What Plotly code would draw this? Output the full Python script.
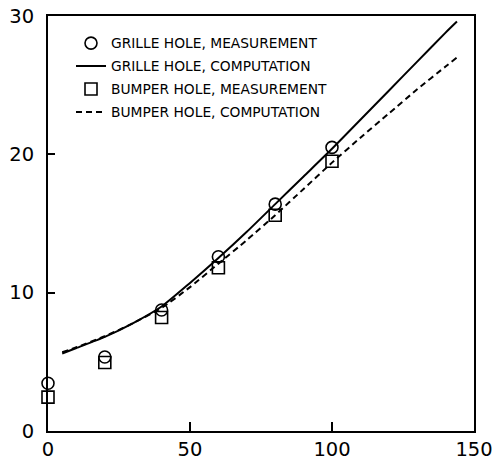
import plotly.graph_objects as go

# Measurement data
meas_x = [0, 20, 40, 60, 80, 100]
grille_meas = [3.45, 5.35, 8.75, 12.6, 16.4, 20.5]
bumper_meas = [2.45, 4.95, 8.2, 11.8, 15.6, 19.5]

# Computation curves
comp_x = [5, 10, 20, 30, 40, 50, 60, 70, 80, 90, 100, 110, 120, 130, 140, 144]
grille_comp = [5.6, 6.0, 6.8, 7.8, 9.0, 10.7, 12.5, 14.4, 16.4, 18.4, 20.4, 22.5, 24.6, 26.7, 28.8, 29.6]
bumper_comp = [5.7, 6.05, 6.85, 7.8, 8.9, 10.4, 12.1, 13.8, 15.6, 17.5, 19.4, 21.2, 22.95, 24.7, 26.35, 27.0]

x_ticks = [0, 50, 100, 150]
y_ticks = [0, 10, 20, 30]

fig = go.Figure()
fig.add_trace(go.Scatter(
    x=meas_x, y=grille_meas, mode="markers", name="GRILLE HOLE, MEASUREMENT",
    marker=dict(symbol="circle-open", size=12, color="black", line=dict(width=1.6)),
    cliponaxis=False, legendgroup="a"))
fig.add_trace(go.Scatter(
    x=comp_x, y=grille_comp, mode="lines", name="GRILLE HOLE, COMPUTATION",
    line=dict(color="black", width=2, shape="spline", smoothing=0.6), legendgroup="b"))
fig.add_trace(go.Scatter(
    x=meas_x, y=bumper_meas, mode="markers", name="BUMPER HOLE, MEASUREMENT",
    marker=dict(symbol="square-open", size=12, color="black", line=dict(width=1.6)),
    cliponaxis=False, legendgroup="c"))
fig.add_trace(go.Scatter(
    x=comp_x, y=bumper_comp, mode="lines", name="BUMPER HOLE, COMPUTATION",
    line=dict(color="black", width=2, dash="6px,4px", shape="spline", smoothing=0.6),
    legendgroup="d"))

tick_font = dict(family="DejaVu Sans, sans-serif", size=19.5, color="black")

fig.update_layout(
    width=495, height=462,
    margin=dict(l=48, r=21, t=16, b=31),
    paper_bgcolor="white", plot_bgcolor="white",
    font=dict(family="DejaVu Sans, sans-serif", color="black"),
    showlegend=True,
    legend=dict(
        x=0.054, y=0.972, xanchor="left", yanchor="top",
        bgcolor="rgba(0,0,0,0)",
        font=dict(family="DejaVu Sans, sans-serif", size=13.8, color="black"),
        tracegroupgap=2, traceorder="grouped",
    ),
)
fig.update_xaxes(
    range=[0, 150], tickvals=x_ticks, ticks="inside", ticklen=9, tickwidth=1.5,
    tickcolor="black", showline=True, linecolor="black", linewidth=2, mirror=True,
    showgrid=False, zeroline=False, tickfont=tick_font, automargin=False,
    ticklabelstandoff=0,
)
fig.update_yaxes(
    range=[0, 30], tickvals=y_ticks, ticks="inside", ticklen=7, tickwidth=1.5,
    tickcolor="black", showline=True, linecolor="black", linewidth=2, mirror=True,
    showgrid=False, zeroline=False, tickfont=tick_font, automargin=False,
    ticklabelstandoff=8,
)

fig.write_html(
    "out.html",
    config={"displayModeBar": False},
    post_script="document.body.style.margin='0';document.body.style.overflow='hidden';",
)
